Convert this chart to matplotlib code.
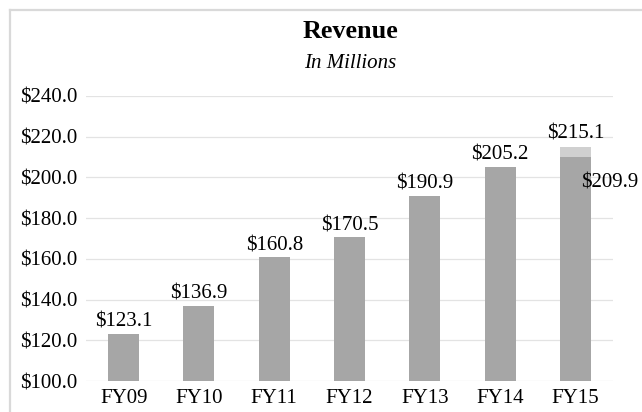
import matplotlib.pyplot as plt
from matplotlib.lines import Line2D

# chart values
years = ['FY09', 'FY10', 'FY11', 'FY12', 'FY13', 'FY14', 'FY15']
revenue = [123.1, 136.9, 160.8, 170.5, 190.9, 205.2, 209.9]
fy15_high = 215.1
y_ticks = [100, 120, 140, 160, 180, 200, 220, 240]

plt.rcParams['font.family'] = ['Liberation Serif', 'DejaVu Serif']

W, H = 642, 412
fig = plt.figure(figsize=(W / 100, H / 100), dpi=100)
ax = fig.add_axes([86 / W, 31 / H, 527 / W, 285 / H])

x = list(range(len(years)))
bar_w = 0.41
ax.bar(x, revenue, width=bar_w, color='#a6a6a6', zorder=2)
# lighter top segment for the FY15 range
ax.bar(x[-1], fy15_high - revenue[-1], width=bar_w, bottom=revenue[-1],
       color='#d0d0d0', zorder=2)

ax.set_ylim(100, 240)
ax.set_xlim(-0.5, len(years) - 0.5)
ax.set_yticks(y_ticks)
ax.set_yticklabels(['$%.1f' % v for v in y_ticks])
ax.set_xticks(x)
ax.set_xticklabels(years)
ax.tick_params(axis='both', length=0, labelsize=15, colors='#000000')
ax.tick_params(axis='y', pad=6)
ax.tick_params(axis='x', pad=6)
ax.grid(axis='y', color='#e3e3e3', linewidth=0.9)
ax.set_axisbelow(True)
for s in ax.spines.values():
    s.set_visible(False)

# data labels
for i, v in enumerate(revenue[:-1]):
    ax.annotate('$%.1f' % v, xy=(i, v), xytext=(0, 7), textcoords='offset pixels',
                ha='center', va='baseline', fontsize=15)
ax.annotate('$%.1f' % fy15_high, xy=(x[-1], fy15_high), xytext=(0, 8),
            textcoords='offset pixels', ha='center', va='baseline', fontsize=15)
ax.annotate('$%.1f' % revenue[-1], xy=(x[-1], revenue[-1]), xytext=(6, -30),
            textcoords='offset pixels', ha='left', va='baseline', fontsize=15)

# titles
fig.text(350 / W, 1 - 38 / H, 'Revenue', ha='center', va='baseline',
         fontsize=18.8, fontweight='bold')
fig.text(350 / W, 1 - 68 / H, 'In Millions', ha='center', va='baseline',
         fontsize=15, style='italic')

# light frame around the chart area
fig.add_artist(Line2D([10 / W, 10 / W], [0, 1 - 10 / H], color='#d9d9d9', lw=1.6))
fig.add_artist(Line2D([10 / W, 1], [1 - 10 / H, 1 - 10 / H], color='#d9d9d9', lw=1.6))

fig.savefig('out.png', dpi=100)
